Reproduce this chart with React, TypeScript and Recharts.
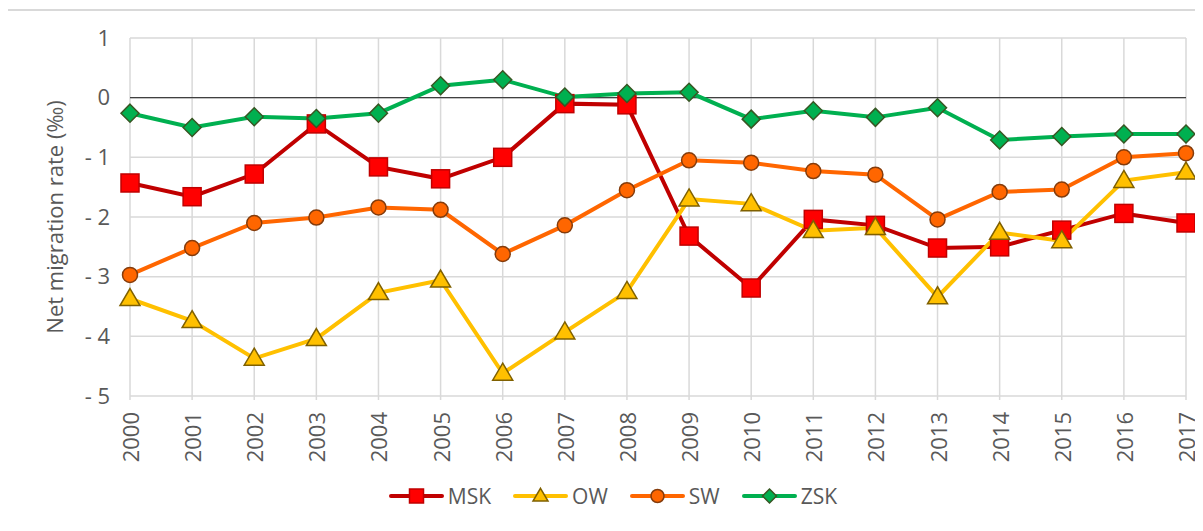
import {
  CartesianGrid,
  Legend,
  Line,
  LineChart,
  ReferenceLine,
  XAxis,
  YAxis,
} from "recharts";

const years = [
  "2000", "2001", "2002", "2003", "2004", "2005", "2006", "2007", "2008",
  "2009", "2010", "2011", "2012", "2013", "2014", "2015", "2016", "2017",
];

const msk = [
  -1.43, -1.66, -1.28, -0.44, -1.16, -1.36, -1.0, -0.1, -0.12,
  -2.32, -3.19, -2.04, -2.14, -2.52, -2.5, -2.22, -1.94, -2.1,
];
const ow = [
  -3.37, -3.74, -4.37, -4.04, -3.27, -3.06, -4.62, -3.93, -3.25,
  -1.7, -1.78, -2.23, -2.18, -3.34, -2.26, -2.4, -1.39, -1.25,
];
const sw = [
  -2.97, -2.52, -2.1, -2.01, -1.84, -1.88, -2.62, -2.14, -1.55,
  -1.05, -1.09, -1.23, -1.29, -2.04, -1.58, -1.54, -1.0, -0.93,
];
const zsk = [
  -0.26, -0.5, -0.32, -0.35, -0.26, 0.2, 0.3, 0.01, 0.07,
  0.09, -0.36, -0.22, -0.33, -0.17, -0.71, -0.65, -0.61, -0.61,
];

const yTicks = [1, 0, -1, -2, -3, -4, -5];

const data = years.map((year, i) => ({
  year,
  MSK: msk[i],
  OW: ow[i],
  SW: sw[i],
  ZSK: zsk[i],
}));

const FONT = "'Open Sans', sans-serif";
const GREY = "#595959";
const FS = 22;

const fmtY = (v: number) => (v < 0 ? `- ${Math.abs(v)}` : `${v}`);

type DotProps = { cx?: number; cy?: number; index?: number };

const square = (s: number) => (p: DotProps) => (
  <rect
    key={`sq-${p.index}`}
    x={(p.cx ?? 0) - s / 2}
    y={(p.cy ?? 0) - s / 2}
    width={s}
    height={s}
    fill="#FF0000"
    stroke="#C00000"
    strokeWidth={1.5}
  />
);

const triangle = (s: number) => (p: DotProps) => {
  const x = p.cx ?? 0;
  const y = p.cy ?? 0;
  const h = s * 0.85;
  return (
    <polygon
      key={`tr-${p.index}`}
      points={`${x},${y - h * 0.6} ${x + s / 2},${y + h * 0.4} ${x - s / 2},${y + h * 0.4}`}
      fill="#FFC000"
      stroke="#7F6000"
      strokeWidth={1.5}
    />
  );
};

const circle = (r: number) => (p: DotProps) => (
  <circle
    key={`ci-${p.index}`}
    cx={p.cx}
    cy={p.cy}
    r={r}
    fill="#FF6600"
    stroke="#843C0C"
    strokeWidth={1.5}
  />
);

const diamond = (s: number) => (p: DotProps) => {
  const x = p.cx ?? 0;
  const y = p.cy ?? 0;
  const d = s / 2;
  return (
    <polygon
      key={`di-${p.index}`}
      points={`${x},${y - d} ${x + d},${y} ${x},${y + d} ${x - d},${y}`}
      fill="#00B050"
      stroke="#375623"
      strokeWidth={1.5}
    />
  );
};

const series = [
  { key: "MSK", color: "#C00000", dot: square(18), icon: square(14) },
  { key: "OW", color: "#FFC000", dot: triangle(20), icon: triangle(15) },
  { key: "SW", color: "#FF6600", dot: circle(7.5), icon: circle(6.5) },
  { key: "ZSK", color: "#00B050", dot: diamond(18), icon: diamond(14) },
];

const YearTick = (props: any) => {
  const { x, y, payload } = props;
  return (
    <text
      x={x}
      y={y}
      transform={`rotate(-90 ${x} ${y})`}
      textAnchor="end"
      dominantBaseline="central"
      fontFamily={FONT}
      fontSize={FS}
      fill={GREY}
    >
      {payload.value}
    </text>
  );
};

const renderLegend = () => (
  <div
    style={{
      display: "flex",
      justifyContent: "center",
      alignItems: "center",
      height: 40,
      gap: 22,
      fontFamily: FONT,
      fontSize: 21,
      color: GREY,
      paddingLeft: 40,
    }}
  >
    {series.map((s) => (
      <div key={s.key} style={{ display: "flex", alignItems: "center", gap: 4 }}>
        <svg width={55} height={20}>
          <line x1={2} y1={10} x2={53} y2={10} stroke={s.color} strokeWidth={4} strokeLinecap="round" />
          {s.icon({ cx: 27.5, cy: 10, index: 0 })}
        </svg>
        <span>{s.key}</span>
      </div>
    ))}
  </div>
);

export default function App() {
  return (
    <div style={{ position: "relative", marginLeft: -8, marginTop: -8, width: 1203, height: 531, overflow: "hidden", background: "#fff" }}>
      <div style={{ position: "absolute", left: 0, top: 0 }}>
        <LineChart
          width={1203}
          height={531}
          data={data}
          margin={{ top: 38, right: 17, bottom: 15, left: 0 }}
        >
          <CartesianGrid stroke="#D9D9D9" strokeWidth={1.5} vertical horizontal />
          <XAxis
            dataKey="year"
            axisLine={false}
            tickLine={{ stroke: "#D9D9D9", strokeWidth: 1.5 }}
            tickSize={4}
            tickMargin={12}
            height={80}
            interval={0}
            tick={<YearTick />}
          />
          <YAxis
            domain={[-5, 1]}
            ticks={yTicks}
            width={130}
            axisLine={false}
            tickLine={false}
            tickSize={0}
            tickMargin={20}
            tickFormatter={fmtY}
            tick={{ fill: GREY, fontSize: FS, fontFamily: FONT }}
            label={{
              value: "Net migration rate (‰)",
              angle: -90,
              position: "insideLeft",
              dx: 50,
              dy: 0,
              style: { fill: GREY, fontSize: FS, fontFamily: FONT, textAnchor: "middle" },
            }}
          />
          <ReferenceLine y={0} stroke="#404040" strokeWidth={1.2} />
          {series.map((s) => (
            <Line
              key={s.key}
              dataKey={s.key}
              stroke={s.color}
              strokeWidth={4}
              dot={s.dot}
              activeDot={false}
              isAnimationActive={false}
            />
          ))}
          <Legend verticalAlign="bottom" height={40} content={renderLegend} />
        </LineChart>
      </div>
      <div
        style={{
          position: "absolute",
          left: 6,
          top: 9,
          width: 1210,
          height: 540,
          border: "2px solid #D9D9D9",
          pointerEvents: "none",
          zIndex: 2,
        }}
      />
    </div>
  );
}
